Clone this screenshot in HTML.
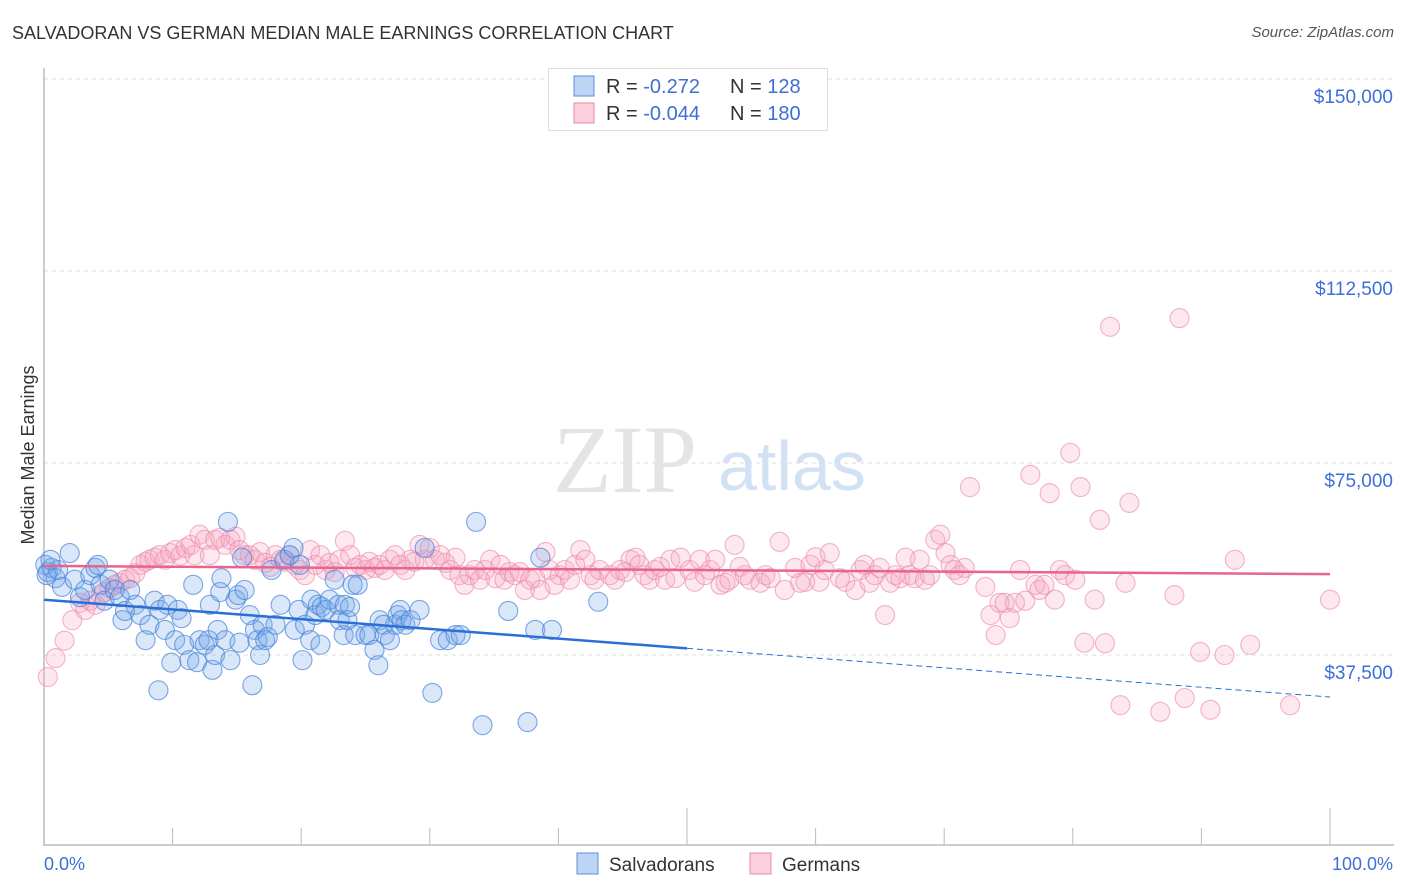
<!DOCTYPE html>
<html><head><meta charset="utf-8"><style>
body{margin:0;background:#fff;font-family:"Liberation Sans",sans-serif;}
#wrap{position:relative;width:1406px;height:892px;overflow:hidden;}
.t{position:absolute;white-space:nowrap;}
</style></head><body>
<div id="wrap">
<div class="t" style="left:12px;top:23px;font-size:18px;color:#333;">SALVADORAN VS GERMAN MEDIAN MALE EARNINGS CORRELATION CHART</div>
<div class="t" style="right:12px;top:24px;font-size:15px;color:#555;font-style:italic;">Source: ZipAtlas.com</div>
<svg id="svg" width="1406" height="892" style="position:absolute;left:0;top:0"></svg>
</div>
<script>
const yTicks=[150000,112500,75000,37500];
const yTickLabels=["$150,000","$112,500","$75,000","$37,500"];
const blueX=[0.1,0.3,0.6,0.9,1.1,2.0,1.4,2.4,2.8,3.2,3.6,4.0,4.4,4.2,4.7,5.1,5.5,5.9,6.1,6.3,6.7,7.1,7.5,7.9,8.2,8.6,8.9,9.0,9.4,9.6,9.9,10.2,10.4,10.7,10.9,11.3,11.6,11.9,12.1,12.5,12.8,12.9,13.1,13.3,13.5,13.7,13.8,14.1,14.3,14.5,14.9,15.1,15.2,15.4,15.6,16.0,16.2,16.4,16.6,16.8,17.0,17.2,17.4,17.7,18.0,18.4,18.7,19.1,19.4,19.5,19.8,19.9,20.1,20.3,20.7,20.8,21.1,21.3,21.5,21.6,21.9,22.2,22.6,22.9,23.0,23.3,23.4,23.6,23.8,24.0,24.2,24.4,25.0,25.3,25.7,26.0,26.1,26.4,26.5,26.9,27.3,27.5,27.7,27.8,28.1,28.5,29.2,29.6,30.2,30.8,31.4,32.0,32.4,33.6,34.1,36.1,37.6,38.2,38.6,39.5,43.1,0.2,0.5];
const blueY=[55.1,53.7,54.5,52.5,54.1,57.4,50.8,52.2,48.8,50.2,53.1,54.5,51.2,55.1,48.1,52.2,50.2,48.8,44.3,46.1,50.2,47.3,45.3,40.4,43.4,48.1,30.6,46.3,42.4,47.3,36.0,40.4,46.3,44.7,39.5,36.5,51.2,36.1,40.4,39.5,40.4,47.3,34.6,37.5,42.4,49.8,52.5,40.4,63.5,36.5,48.3,49.2,39.9,56.5,50.2,45.3,31.6,42.4,40.4,37.5,43.4,40.4,41.0,54.1,43.4,47.3,56.1,57.0,58.4,42.4,46.3,55.1,36.5,43.4,40.4,48.3,45.3,47.3,39.5,46.9,46.3,48.3,52.2,47.3,44.3,41.4,47.3,44.3,46.9,51.2,41.4,51.2,41.4,41.4,38.5,35.5,44.3,43.4,41.4,40.4,43.4,45.3,46.3,44.3,43.4,44.3,46.3,58.4,30.1,40.4,40.4,41.4,41.4,63.5,23.8,46.1,24.4,42.4,56.5,42.4,47.9,53.1,56.1];
const pinkX=[0.3,0.9,1.6,2.2,2.8,3.2,3.6,4.0,4.4,4.7,5.1,5.5,5.9,6.3,6.7,7.1,7.5,7.9,8.2,8.6,9.0,9.4,9.8,10.2,10.6,11.0,11.4,11.7,12.1,12.5,12.9,13.3,13.7,14.1,14.5,14.9,15.2,15.6,16.0,16.4,16.8,17.2,17.6,18.0,18.4,18.7,19.1,19.5,19.9,20.3,20.7,21.1,21.5,21.9,22.2,22.6,23.0,23.4,23.8,24.2,24.6,25.0,25.3,25.7,26.1,26.5,26.9,27.3,27.7,28.1,28.5,28.8,29.2,29.6,30.0,30.4,30.8,31.2,31.6,32.0,32.3,32.7,33.1,33.5,33.9,34.3,34.7,35.1,35.5,35.8,36.2,36.6,37.0,37.4,37.8,38.2,38.6,39.0,39.3,39.7,40.1,40.5,40.9,41.3,41.7,42.1,42.5,42.8,43.2,44.0,44.4,44.8,45.2,45.6,46.0,46.3,46.7,47.1,47.5,47.9,48.3,48.7,49.1,49.5,50.2,50.6,51.0,51.4,51.8,52.2,52.6,53.0,53.3,53.7,54.1,54.5,54.9,55.7,56.1,56.5,57.2,57.6,58.4,58.8,59.2,59.6,60.0,60.3,60.7,61.1,61.9,62.3,63.1,63.5,63.8,64.2,64.6,65.0,65.4,65.8,66.2,66.6,67.0,67.3,67.7,68.1,68.5,68.9,69.3,69.7,70.1,70.5,70.8,71.2,71.6,72.0,73.2,73.6,74.0,74.3,74.7,75.1,75.5,75.9,76.3,76.7,77.1,77.4,77.8,78.2,78.6,79.0,79.4,79.8,80.2,80.6,80.9,81.7,82.1,82.5,82.9,83.7,84.1,84.4,86.8,87.9,88.3,88.7,89.9,90.7,91.8,92.6,93.8,96.9,100.0];
const pinkY=[33.2,36.9,40.3,44.3,47.7,46.3,48.1,47.3,49.2,49.8,50.6,51.2,51.6,52.2,52.5,53.5,55.1,55.7,56.1,56.5,57.0,56.1,57.4,58.0,56.9,58.4,59.0,57.0,61.0,60.0,57.0,60.0,60.4,59.0,60.0,60.6,58.0,57.0,57.0,56.1,57.6,55.5,54.7,57.0,56.1,55.7,57.0,55.1,54.1,53.1,58.0,55.1,57.0,54.1,55.5,53.7,56.1,59.8,57.0,54.5,55.1,54.1,55.7,54.5,55.1,54.1,56.1,57.0,55.1,54.1,56.1,55.7,59.0,56.1,58.4,56.1,57.0,55.5,54.1,56.5,53.1,51.2,53.1,54.1,52.2,54.1,56.1,52.5,55.1,52.2,53.7,53.1,53.7,50.2,52.2,52.5,50.2,57.6,54.1,51.2,53.1,54.1,52.2,55.1,58.0,56.1,53.1,52.2,54.1,53.1,52.2,54.1,53.7,56.1,56.5,55.1,53.1,52.2,54.1,54.7,52.2,56.1,52.5,56.5,54.1,51.8,56.1,53.1,54.1,56.1,51.2,51.6,52.2,59.0,54.7,53.1,52.2,51.6,53.1,52.5,59.6,50.2,54.5,51.6,51.8,55.1,56.6,51.8,54.1,57.4,52.5,51.8,50.2,54.1,55.1,51.6,53.1,54.5,45.3,51.6,53.1,52.5,56.5,53.1,52.5,56.1,52.2,53.1,60.0,61.0,57.4,55.1,54.1,53.1,54.5,70.3,50.8,45.3,41.4,47.7,47.7,44.7,47.7,54.1,48.1,72.7,51.2,50.2,51.2,69.1,48.3,54.1,53.1,77.0,52.2,70.3,39.9,48.3,63.9,39.8,101.6,27.7,51.6,67.2,26.4,49.2,103.3,29.1,38.1,26.8,37.5,56.1,39.5,27.7,48.3];
const blueTrend=[48.3,29.3];
const blueSolidEnd=50;
const pinkTrend=[54.9,53.3];
const legendR=["-0.272","-0.044"];
const legendN=["128","180"];

const NS="http://www.w3.org/2000/svg";
const svg=document.getElementById('svg');
const X0=44,X1=1330,Yt=79,Yb=847;
const xs=p=>X0+(X1-X0)*p/100;
const ys=k=>Yb-(Yb-Yt)*(k*1000)/150000;
function mk(tag,a,parent){const e=document.createElementNS(NS,tag);for(const k in a)e.setAttribute(k,a[k]);(parent||svg).appendChild(e);return e;}

yTicks.forEach((v,i)=>{
  const g=mk('line',{x1:X0,x2:1394,y1:ys(v/1000),y2:ys(v/1000),stroke:'#dcdcdc','stroke-dasharray':'4,4'});
  
  
  const t=mk('text',{x:1393,y:ys(v/1000)+24,'text-anchor':'end','font-size':19,fill:'#3d6fd6','font-family':'Liberation Sans'});
  t.textContent=yTickLabels[i];
  
  
});
const ya=mk('line',{x1:X0,x2:X0,y1:68,y2:846,stroke:'#bbb','stroke-width':1.5});


const xa=mk('line',{x1:X0,x2:1394,y1:845,y2:845,stroke:'#bbb','stroke-width':1.5});


for(let i=0;i<=10;i++){
  const tk=mk('line',{x1:xs(i*10),x2:xs(i*10),y1:(i==5||i==10)?808:828,y2:845,stroke:'#bbb'});
  
  
}
const wm=mk('text',{x:553,y:492,'font-size':96,fill:'#e4e4e4','font-family':'Liberation Serif'});wm.textContent='ZIP';


const wm2=mk('text',{x:718,y:490,'font-size':70,fill:'#d3e1f5','font-family':'Liberation Sans'});wm2.textContent='atlas';



pinkX.forEach((x,i)=>{const c=mk('circle',{cx:xs(x),cy:ys(pinkY[i]),r:9.5,fill:'rgba(246,165,192,0.25)',stroke:'rgba(235,140,172,0.65)','stroke-width':1.1});
  
  });
blueX.forEach((x,i)=>{const c=mk('circle',{cx:xs(x),cy:ys(blueY[i]),r:9.5,fill:'rgba(120,170,232,0.28)',stroke:'rgba(70,130,218,0.7)','stroke-width':1.1});
  
  });
const bAt=p=>blueTrend[0]+(blueTrend[1]-blueTrend[0])*p/100;
const bl=mk('line',{x1:xs(0),y1:ys(bAt(0)),x2:xs(blueSolidEnd),y2:ys(bAt(blueSolidEnd)),stroke:'#2a6fd6','stroke-width':2.5});


const bd=mk('line',{x1:xs(blueSolidEnd),y1:ys(bAt(blueSolidEnd)),x2:xs(100),y2:ys(bAt(100)),stroke:'#2a6fd6','stroke-width':1,'stroke-dasharray':'6,4'});


const pl=mk('line',{x1:xs(0),y1:ys(pinkTrend[0]),x2:xs(100),y2:ys(pinkTrend[1]),stroke:'#e8648c','stroke-width':2.5});



const yl=mk('text',{x:0,y:0,transform:'translate(34,455) rotate(-90)','text-anchor':'middle','font-size':18,fill:'#333','font-family':'Liberation Sans'});
yl.textContent='Median Male Earnings';


const xl0=mk('text',{x:44,y:870,'font-size':18,fill:'#3d6fd6','font-family':'Liberation Sans'});xl0.textContent='0.0%';


const xl1=mk('text',{x:1393,y:870,'text-anchor':'end','font-size':18,fill:'#3d6fd6','font-family':'Liberation Sans'});xl1.textContent='100.0%';



const lb=mk('rect',{x:548.5,y:68.5,width:279,height:62,fill:'#fff',stroke:'#ddd'});


const cols=[['rgba(110,160,230,0.45)','#5b8fd8'],['rgba(244,150,180,0.45)','#e88aa8']];
[0,1].forEach(i=>{
  const y=76+i*27;
  const sq=mk('rect',{x:574,y:y,width:20,height:20,fill:cols[i][0],stroke:cols[i][1]});
  
  
  const t=mk('text',{x:606,y:y+17,'font-size':20,fill:'#333','font-family':'Liberation Sans'});
  t.innerHTML='R = <tspan fill="#3d6fd6"> '+legendR[i]+'</tspan><tspan x="730">N = </tspan><tspan fill="#3d6fd6"> '+legendN[i]+'</tspan>';
  
  
});
const names=['Salvadorans','Germans'],lx=[577,750];
[0,1].forEach(i=>{
  const sq=mk('rect',{x:lx[i],y:853,width:21,height:21,fill:cols[i][0],stroke:cols[i][1]});
  
  
  const t=mk('text',{x:lx[i]+32,y:871,'font-size':19,fill:'#333','font-family':'Liberation Sans'});
  t.textContent=names[i];
  
  
});
</script>
</body></html>
